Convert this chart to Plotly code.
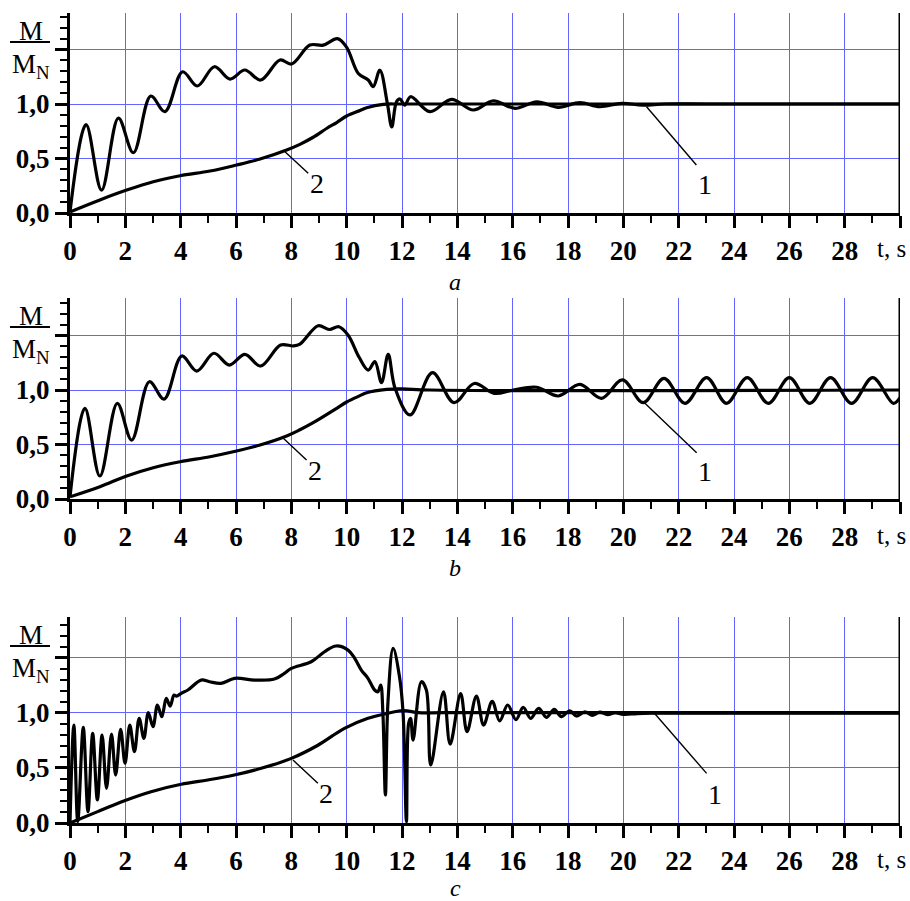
import plotly.graph_objects as go

# ---------------- data ----------------
# panel a
a_t1 = [0, 0.58, 1.14, 1.75, 2.29, 2.92, 3.43, 4.07, 4.6, 5.22, 5.78, 6.32, 6.89, 7.59, 8.01,
        8.67, 9.15, 9.67, 10.0, 10.42, 10.78, 10.96, 11.2, 11.47, 11.63, 11.8, 11.93, 12.1,
        12.31, 13.01, 13.79, 14.58, 15.3, 16.08, 16.87, 17.65, 18.43, 19.15, 19.94, 20.7,
        21.5, 23, 30]
a_m1 = [0.01, 0.81, 0.21, 0.87, 0.553, 1.073, 0.93, 1.296, 1.165, 1.342, 1.229, 1.312, 1.22,
        1.404, 1.367, 1.541, 1.54, 1.6, 1.52, 1.28, 1.22, 1.16, 1.31, 1.006, 0.79, 1.02, 1.046,
        0.99, 1.067, 0.93, 1.043, 0.945, 1.03, 0.96, 1.02, 0.97, 1.012, 0.975, 1.006, 0.99,
        1.0, 1.0, 1.0]
a_t2 = [0, 1.08, 2.05, 3.01, 3.98, 5.06, 6.02, 6.87, 7.83, 8.31, 8.79, 9.3, 9.64, 10.0, 10.48,
        10.72, 11.32, 12, 30]
a_m2 = [0.01, 0.12, 0.21, 0.287, 0.342, 0.385, 0.44, 0.495, 0.578, 0.63, 0.695, 0.78, 0.83,
        0.89, 0.94, 0.965, 0.997, 1.0, 1.0]

# panel b
b_t1 = [0, 0.54, 1.08, 1.71, 2.23, 2.87, 3.4, 4.04, 4.58, 5.2, 5.76, 6.32, 6.89, 7.61, 8.07,
        8.31, 8.97, 9.37, 9.72, 10.06, 10.45, 10.78, 11.02, 11.26, 11.5, 11.75, 12.29, 13.1,
        13.88, 14.61, 15.33, 16.02, 16.87, 17.65, 18.43, 19.21, 19.97, 20.72, 21.47, 22.23,
        23.01, 23.73, 24.48, 25.24, 26.0, 26.74, 27.49, 28.25, 29.01, 29.76, 30]
b_m1 = [0.02, 0.832, 0.211, 0.878, 0.541, 1.076, 0.917, 1.312, 1.174, 1.337, 1.229, 1.327,
        1.22, 1.413, 1.404, 1.42, 1.59, 1.555, 1.58, 1.5, 1.3, 1.183, 1.26, 1.067, 1.327, 1.016,
        0.771, 1.159, 0.884, 1.06, 0.969, 1.0, 1.025, 0.945, 1.052, 0.924, 1.092, 0.884, 1.107,
        0.878, 1.113, 0.878, 1.113, 0.878, 1.113, 0.878, 1.113, 0.878, 1.113, 0.878, 0.93]
b_t2 = [0, 1.08, 2.05, 3.01, 3.98, 5.06, 6.02, 6.87, 7.83, 8.31, 8.79, 9.64, 10.0, 10.48,
        10.72, 11.45, 12, 13, 30]
b_m2 = [0.02, 0.113, 0.211, 0.287, 0.342, 0.388, 0.44, 0.495, 0.578, 0.635, 0.7, 0.832, 0.89,
        0.948, 0.975, 1.006, 1.01, 1.0, 1.0]

# panel c
c_t1 = [0, 0.14, 0.28, 0.48, 0.65, 0.82, 0.99, 1.16, 1.32, 1.5, 1.65, 1.83, 1.99, 2.16, 2.33,
        2.5, 2.67, 2.83, 3.0, 3.16, 3.32, 3.48, 3.62, 3.76, 3.85, 4.02, 4.26, 4.74, 5.04, 5.46,
        5.95, 6.67, 7.39, 7.75, 8.0, 8.72, 9.2, 9.62, 10.05, 10.29, 10.53, 10.77, 11.01, 11.13,
        11.23, 11.31, 11.4, 11.49, 11.68, 11.91, 12.04, 12.16, 12.24, 12.31, 12.4, 12.7,
        12.88, 13.04, 13.5, 13.74, 14.12, 14.35, 14.69, 14.95, 15.26, 15.53, 15.82, 16.12,
        16.38, 16.65, 16.94, 17.22, 17.5, 17.76, 18.06, 18.31, 18.61, 18.87, 19.15, 19.43,
        19.7, 20.0, 20.5, 21, 30]
c_m1 = [0, 0.888, 0.015, 0.867, 0.103, 0.813, 0.209, 0.798, 0.314, 0.807, 0.435, 0.849, 0.541,
        0.888, 0.647, 0.949, 0.768, 1.0, 0.873, 1.07, 0.964, 1.13, 1.06, 1.16, 1.15, 1.176,
        1.206, 1.296, 1.281, 1.266, 1.312, 1.296, 1.305, 1.357, 1.402, 1.462, 1.553, 1.605,
        1.568, 1.493, 1.387, 1.312, 1.206, 1.19, 1.251, 0.994, 0.254, 1.085, 1.584, 1.326,
        0.994, 0.012, 0.904, 0.949, 0.752, 1.281, 1.206, 0.526, 1.19, 0.715, 1.173, 0.828,
        1.151, 0.888, 1.103, 0.926, 1.07, 0.937, 1.049, 0.949, 1.04, 0.958, 1.031, 0.964,
        1.018, 0.97, 1.009, 0.976, 1.005, 0.982, 1.0, 0.985, 0.992, 0.995, 0.995]
c_t2 = [0, 1.0, 1.97, 2.93, 4.02, 4.98, 5.94, 6.91, 8.0, 8.96, 9.92, 10.77, 11.37, 12.04,
        12.6, 13.5, 30]
c_m2 = [0, 0.103, 0.202, 0.284, 0.351, 0.39, 0.435, 0.496, 0.586, 0.705, 0.858, 0.949, 0.988,
        1.02, 1.0, 1.0, 1.0]

x_tickvals = list(range(0, 31, 2))
x_ticktext = [str(v) for v in range(0, 29, 2)] + [""]
y_tickvals = [0, 0.5, 1.0, 1.5]
y_ticktext = ["0,0", "0,5", "1,0", ""]
panel_names = ["a", "b", "c"]
curve_names = ["1", "2"]

# label leader lines (data coords): (t_from, m_from, t_to, m_to, t_label, m_label)
lead1 = [(20.84, 0.975, 22.64, 0.44, 22.95, 0.26),
         (20.78, 0.878, 22.65, 0.425, 22.95, 0.25),
         (21.14, 0.99, 23.01, 0.45, 23.31, 0.255)]
lead2 = [(7.77, 0.562, 8.61, 0.364, 8.92, 0.272),
         (7.71, 0.557, 8.55, 0.358, 8.85, 0.266),
         (8.06, 0.571, 8.96, 0.36, 9.26, 0.27)]

# ---------------- layout geometry ----------------
W, H = 910, 901
ML, MR = 70, 10
PW = W - ML - MR
panels_px = [(13, 213, 1.835), (298, 499, 1.844), (617, 823, 1.868)]  # top, bottom, ymax


def py(p):
    return (H - p) / H


def px(p):
    return (p - ML) / PW


GRID = "rgb(100,100,255)"
SERIF = "Liberation Serif, Times New Roman, Times, serif"
TICKFONT = dict(family=SERIF, size=27, color="black", weight="bold")

series = [(a_t1, a_m1, a_t2, a_m2), (b_t1, b_m1, b_t2, b_m2), (c_t1, c_m1, c_t2, c_m2)]

fig = go.Figure()
annotations = []
shapes = []
layout = dict(width=W, height=H, margin=dict(l=ML, r=MR, t=0, b=0, autoexpand=False),
              paper_bgcolor="white", plot_bgcolor="white", showlegend=False)


def ann(text, x, y, size, xref="paper", yref="paper"):
    return dict(text=text, xref=xref, yref=yref, x=x, y=y, showarrow=False,
                xanchor="center", yanchor="middle",
                font=dict(family=SERIF, size=size, color="black"))


for i, (top, bot, ymax) in enumerate(panels_px):
    n = "" if i == 0 else str(i + 1)
    xa, ya = "x" + n, "y" + n
    t1, m1, t2, m2 = series[i]
    for tt, mm, nm in ((t1, m1, curve_names[0]), (t2, m2, curve_names[1])):
        fig.add_trace(go.Scatter(x=tt, y=mm, mode="lines", name=nm, xaxis=xa, yaxis=ya,
                                 line=dict(color="black", width=3.2, shape="spline",
                                           smoothing=1.0),
                                 hoverinfo="skip"))
    layout["xaxis" + n] = dict(
        domain=[0, 1], anchor=ya, range=[0, 30], tickmode="array",
        tickvals=x_tickvals, ticktext=x_ticktext, ticks="outside", ticklen=12,
        tickwidth=2.5, tickcolor="black", showline=True, linecolor="black", linewidth=3,
        showgrid=True, gridcolor=GRID, gridwidth=1.4, zeroline=False, tickfont=TICKFONT,
        automargin=False,
        minor=dict(dtick=1, tick0=0, ticks="outside", ticklen=7, tickwidth=2.2,
                   tickcolor="black", showgrid=False),
        fixedrange=True)
    layout["yaxis" + n] = dict(
        domain=[py(bot), py(top)], anchor=xa, range=[0, ymax], tickmode="array",
        tickvals=y_tickvals, ticktext=y_ticktext, ticks="outside", ticklen=12,
        tickwidth=2.5, tickcolor="black", showline=True, linecolor="black", linewidth=3,
        showgrid=True, gridcolor=GRID, gridwidth=1.4, zeroline=False, tickfont=TICKFONT,
        automargin=False,
        minor=dict(dtick=0.1, tick0=0, ticks="outside", ticklen=7, tickwidth=2.2,
                   tickcolor="black", showgrid=False),
        fixedrange=True)
    # right spine
    shapes.append(dict(type="line", xref=xa, yref=ya + " domain", x0=30, x1=30, y0=0, y1=1,
                       line=dict(color="black", width=3)))
    # y label M / M_N
    annotations.append(ann("M", px(31), py(top + 18), 27))
    shapes.append(dict(type="line", xref="paper", yref="paper", x0=px(10), x1=px(50),
                       y0=py(top + 29), y1=py(top + 29), line=dict(color="black", width=2)))
    annotations.append(ann("M<sub>N</sub>", px(31), py(top + 53), 27))
    # t, s label
    annotations.append(ann("t, s", px(891), py(bot + 36), 25))
    # panel letter
    annotations.append(ann("<i>" + panel_names[i] + "</i>", px(455), py(min(bot + 69, 888)),
                           24))
    # curve labels with leaders
    for lead, nm in ((lead1[i], curve_names[0]), (lead2[i], curve_names[1])):
        x0, y0, x1, y1, xl, yl = lead
        shapes.append(dict(type="line", xref=xa, yref=ya, x0=x0, y0=y0, x1=x1, y1=y1,
                           line=dict(color="black", width=1.4)))
        annotations.append(ann(nm, xl, yl, 28, xref=xa, yref=ya))

layout["annotations"] = annotations
layout["shapes"] = shapes
fig.update_layout(**layout)
fig.write_html("out.html", config={"displayModeBar": False},
               post_script="document.body.style.margin='0';"
                           "document.body.style.overflow='hidden';")
